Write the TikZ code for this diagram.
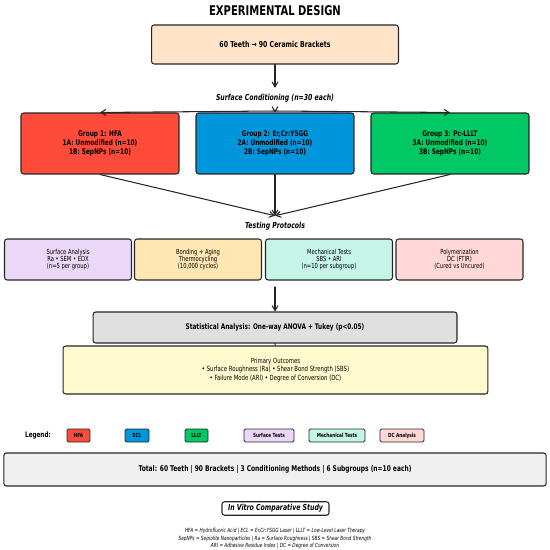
\documentclass[tikz,border=0pt]{standalone}
\usepackage{fontspec}
\setmainfont{DejaVu Sans}[FakeStretch=0.75]
\usetikzlibrary{arrows.meta}
\definecolor{peach}{HTML}{FFE4C9}
\definecolor{hfa}{HTML}{FF4B3A}
\definecolor{ecl}{HTML}{0096DC}
\definecolor{lllt}{HTML}{00C864}
\definecolor{lav}{HTML}{EBD7F7}
\definecolor{bond}{HTML}{FFE6B3}
\definecolor{mint}{HTML}{C4F5E6}
\definecolor{pinkish}{HTML}{FFD7D7}
\definecolor{statgray}{HTML}{E0E0E0}
\definecolor{lemon}{HTML}{FFFACD}
\definecolor{totgray}{HTML}{F0F0F0}
\newcommand{\fs}[2]{\fontsize{#1}{#2}\selectfont}
\begin{document}
\begin{tikzpicture}[x=0.02cm, y=-0.02cm, line join=round, line cap=round, >={Straight Barb[length=2.8pt,width=3.4pt]}]
	\tikzset{box/.style={draw=black!85, line width=0.6pt, rounded corners=1.5pt, inner sep=0pt, align=center},
		group/.style={box, minimum width=3.16cm, minimum height=1.22cm, font=\fs{4.4}{5.1}\bfseries},
		test/.style={box, minimum width=2.54cm, minimum height=0.82cm, font=\fs{3.95}{4.1}},
		swatch/.style={box, line width=0.5pt, rounded corners=0.8pt, minimum height=0.26cm, inner xsep=2pt, font=\fs{3.2}{3.5}\bfseries},
		heading/.style={font=\fs{4.7}{5}\bfseries\itshape},
		link/.style={->, line width=0.6pt, black!85}
	}
	\useasboundingbox (0,0) rectangle (550,550);
	% top
	\node[font=\fs{7.6}{8}\bfseries] (title) at (275,10.5) {EXPERIMENTAL DESIGN};
	\node[box, fill=peach, minimum width=4.94cm, minimum height=0.78cm, font=\fs{4.7}{5}\bfseries] (samples) at (275,44.5) {60 Teeth → 90 Ceramic Brackets};
	\node[heading] (cond) at (275,98) {Surface Conditioning (n=30 each)};
	\coordinate (split) at (275,111);
	% groups
	\node[group, fill=hfa] (g1) at (100,143.5) {Group 1: HFA\\1A: Unmodified (n=10)\\1B: SepNPs (n=10)};
	\node[group, fill=ecl] (g2) at (275,143.5) {Group 2: Er,Cr:YSGG\\2A: Unmodified (n=10)\\2B: SepNPs (n=10)};
	\node[group, fill=lllt] (g3) at (450,143.5) {Group 3: Pc-LLLT\\3A: Unmodified (n=10)\\3B: SepNPs (n=10)};
	\node[heading] (tests) at (275,226) {Testing Protocols};
	% protocols
	\node[test, fill=lav] (surf) at (68,259.5) {Surface Analysis\\Ra • SEM • EDX\\(n=5 per group)};
	\node[test, fill=bond] (aging) at (198,259.5) {Bonding + Aging\\Thermocycling\\(10,000 cycles)};
	\node[test, fill=mint] (mech) at (329,259.5) {Mechanical Tests\\SBS • ARI\\(n=10 per subgroup)};
	\node[test, fill=pinkish] (poly) at (459.5,259.5) {Polymerization\\DC (FTIR)\\(Cured vs Uncured)};
	\coordinate (collect) at (275,287);
	% analysis
	\node[box, fill=statgray, minimum width=7.28cm, minimum height=0.62cm, font=\fs{4.4}{5}\bfseries] (stats) at (275,327.5) {Statistical Analysis: One-way ANOVA + Tukey (p<0.05)};
	\node[box, fill=lemon, minimum width=8.5cm, minimum height=0.96cm, font=\fs{4.05}{4.8}] (outcomes) at (275.5,370) {Primary Outcomes\\• Surface Roughness (Ra) • Shear Bond Strength (SBS)\\• Failure Mode (ARI) • Degree of Conversion (DC)};
	% legend
	\node[font=\fs{4.3}{5}\bfseries] (legend) at (38,435.5) {Legend:};
	\node[swatch, fill=hfa, minimum width=0.46cm] (lhfa) at (78.5,435.5) {HFA};
	\node[swatch, fill=ecl, minimum width=0.48cm] (lecl) at (137,435.5) {ECL};
	\node[swatch, fill=lllt, minimum width=0.46cm] (llllt) at (196.5,435.5) {LLLT};
	\node[swatch, fill=lav, minimum width=1cm] (lsurf) at (269,435.5) {Surface Tests};
	\node[swatch, fill=mint, minimum width=1.12cm] (lmech) at (337,435.5) {Mechanical Tests};
	\node[swatch, fill=pinkish, minimum width=0.88cm] (ldc) at (402,435.5) {DC Analysis};
	\node[box, fill=totgray, minimum width=10.85cm, minimum height=0.66cm, font=\fs{4.5}{5}\bfseries] (total) at (275,469.5) {Total: 60 Teeth | 90 Brackets | 3 Conditioning Methods | 6 Subgroups (n=10 each)};
	\node[box, fill=white, minimum width=2.14cm, minimum height=0.27cm, font=\fs{4.7}{5}\bfseries\itshape] (study) at (275.5,508.5) {In Vitro Comparative Study};
	\node[align=center, inner sep=0pt, font=\fs{3.25}{4}\itshape] (abbr) at (275,538.5) {HFA = Hydrofluoric Acid | ECL = Er,Cr:YSGG Laser | LLLT = Low-Level Laser Therapy\\SepNPs = Sepiolite Nanoparticles | Ra = Surface Roughness | SBS = Shear Bond Strength\\ARI = Adhesive Residue Index | DC = Degree of Conversion};
	% connectors
	\draw[link] (samples) -- (cond);
	\foreach \g in {g1,g2,g3} \draw[link] (split) -- (\g.north);
	\foreach \g in {g1,g2,g3} \draw[link] (\g.south) -- (tests.north);
	\draw[link] (collect) -- (stats);
	\draw[line width=0.6pt, black!85] (stats) -- (outcomes);
\end{tikzpicture}
\end{document}
